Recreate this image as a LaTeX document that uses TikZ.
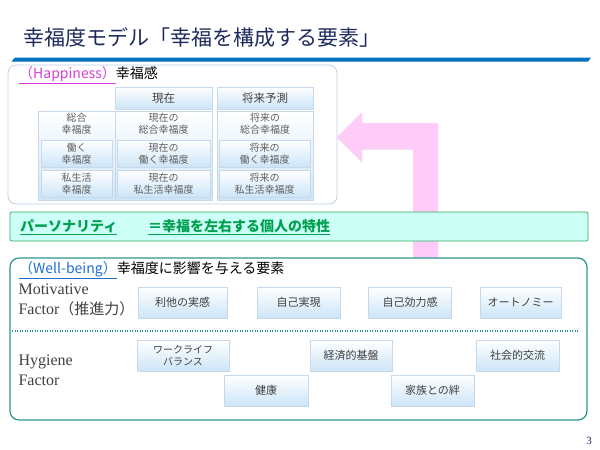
\documentclass[tikz,border=0pt]{standalone}
\usepackage{fontspec}
\setmainfont{Noto Sans CJK JP}
\newfontfamily\tms{Liberation Serif}
\usetikzlibrary{shadows}

\definecolor{titlenavy}{RGB}{31,42,92}
\definecolor{barblue}{RGB}{0,112,192}
\definecolor{frameblue}{RGB}{190,208,230}
\definecolor{cellblue}{RGB}{204,229,248}
\definecolor{celledge}{RGB}{200,216,232}
\definecolor{cellgray}{RGB}{95,95,95}
\definecolor{happypink}{RGB}{214,64,214}
\definecolor{arrowpink}{RGB}{255,204,247}
\definecolor{mintfill}{RGB}{204,255,245}
\definecolor{mintedge}{RGB}{51,170,102}
\definecolor{persgreen}{RGB}{0,160,80}
\definecolor{wbteal}{RGB}{42,150,145}
\definecolor{wbblue}{RGB}{30,110,210}
\definecolor{factorgray}{RGB}{64,64,64}

\begin{document}
\begin{tikzpicture}[x=1pt, y=-1pt,
    cell/.style = {shape=rectangle, draw=celledge, line width=0.4pt,
      top color=white, bottom color=cellblue, text=cellgray,
      align=center, inner sep=0pt, font=\fontsize{10}{12}\selectfont,
      drop shadow={shadow xshift=0.8pt, shadow yshift=-1.2pt, fill=black!30}},
    colcell/.style = {cell, minimum height=89pt},
    coltext/.style = {anchor=north, yshift=-1.5pt, align=center, inner sep=1pt,
      text=cellgray, font=\fontsize{10}{12}\selectfont},
    headcell/.style = {cell, minimum height=22pt, text=factorgray,
      font=\fontsize{11.5}{13}\selectfont},
    rowcell/.style = {cell, minimum height=27pt},
    elem/.style = {cell, minimum height=31pt, minimum width=83pt,
      text=factorgray, font=\fontsize{11}{13}\selectfont},
    factor/.style = {anchor=west, align=left, text=factorgray,
      font=\tms\fontsize{16}{20.5}\selectfont}]
  \useasboundingbox (0,0) rectangle (600,450);

  % title and bar
  \node[anchor=west, inner sep=0pt, text=titlenavy,
    font=\fontsize{21}{24}\selectfont] (title) at (23,37)
    {幸福度モデル「幸福を構成する要素」};
  \fill[barblue] (11.5,61.5) -- (15,57.5) -- (591,57.5) -- (588,61.5) -- cycle;
  \node[text=titlenavy, font=\tms\fontsize{11}{12}\selectfont] (page) at (589,441) {3};

  % feedback arrow
  \fill[arrowpink, drop shadow={shadow xshift=0pt, shadow yshift=-1pt, fill=black!18}]
    (337,137) -- (362,112) -- (362,123) -- (438,123) -- (438,258)
    -- (413,258) -- (413,149) -- (362,149) -- (362,162) -- cycle;

  % happiness
  \draw[frameblue, line width=0.8pt, fill=white, rounded corners=8pt]
    (8,65) rectangle (337,204);
  \node[anchor=west, inner sep=0pt, font=\fontsize{14}{16}\selectfont] (happy) at (19,75)
    {{\color{happypink}\underline{（Happiness）}}幸福感};

  \node[colcell, minimum width=77pt] (tot) at (76.5,155.5) {};
  \node[coltext] (totT) at (tot.north) {総合\\幸福度};
  \node[colcell, minimum width=97pt] (now) at (163.5,155.5) {};
  \node[coltext] (nowT) at (now.north) {現在の\\総合幸福度};
  \node[colcell, minimum width=96pt] (fut) at (265,155.5) {};
  \node[coltext] (futT) at (fut.north) {将来の\\総合幸福度};

  \node[headcell, minimum width=97pt] (nowH) at (163.5,98) {現在};
  \node[headcell, minimum width=96pt] (futH) at (265,98) {将来予測};

  \node[rowcell, minimum width=71pt] (work) at (76.5,153.5) {働く\\幸福度};
  \node[rowcell, minimum width=71pt] (life) at (76.5,183.5) {私生活\\幸福度};
  \node[rowcell, minimum width=93pt] (nowWork) at (163.5,153.5) {現在の\\働く幸福度};
  \node[rowcell, minimum width=93pt] (nowLife) at (163.5,183.5) {現在の\\私生活幸福度};
  \node[rowcell, minimum width=91pt] (futWork) at (264.5,153.5) {将来の\\働く幸福度};
  \node[rowcell, minimum width=91pt] (futLife) at (264.5,183.5) {将来の\\私生活幸福度};

  % personality
  \draw[mintedge, line width=0.8pt, fill=mintfill, rounded corners=2pt]
    (10,212) rectangle (588,241);
  \node[anchor=west, inner sep=0pt, text=persgreen,
    font=\bfseries\fontsize{14}{16}\selectfont] (pers) at (20,227.5)
    {\underline{パーソナリティ}\hspace{2.2em}\underline{＝幸福を左右する個人の特性}};

  % well-being
  \draw[wbteal, line width=1.2pt, fill=white, rounded corners=9pt]
    (10,258) rectangle (587,420);
  \node[anchor=west, inner sep=0pt, font=\fontsize{14}{16}\selectfont] (wb) at (19,270)
    {{\color{wbblue}\underline{（Well-being）}}幸福度に影響を与える要素};

  \node[factor] (motiv) at (15,300)
    {Motivative\\Factor{\rmfamily\fontsize{15}{20.5}\selectfont（推進力）}};
  \node[elem, minimum width=89pt] (altru) at (182.5,302.5) {利他の実感};
  \node[elem] (selfreal) at (298.5,302.5) {自己実現};
  \node[elem] (selfeff) at (410,302.5) {自己効力感};
  \node[elem, minimum width=81pt] (auto) at (520.5,302.5) {オートノミー};

  \draw[wbteal, line width=1.2pt, dash pattern=on 1.2pt off 1.3pt]
    (12,331) -- (578,331);

  \node[factor] (hyg) at (15,370.5) {Hygiene\\Factor};
  \node[elem, minimum width=92pt, font=\fontsize{10}{12}\selectfont] (wlb) at (183,355.5)
    {ワークライフ\\バランス};
  \node[elem, minimum width=82pt] (econ) at (351,355.5) {経済的基盤};
  \node[elem] (social) at (517.5,355.5) {社会的交流};
  \node[elem, minimum width=84pt] (health) at (266,390.5) {健康};
  \node[elem] (family) at (432.5,390.5) {家族との絆};
\end{tikzpicture}
\end{document}
